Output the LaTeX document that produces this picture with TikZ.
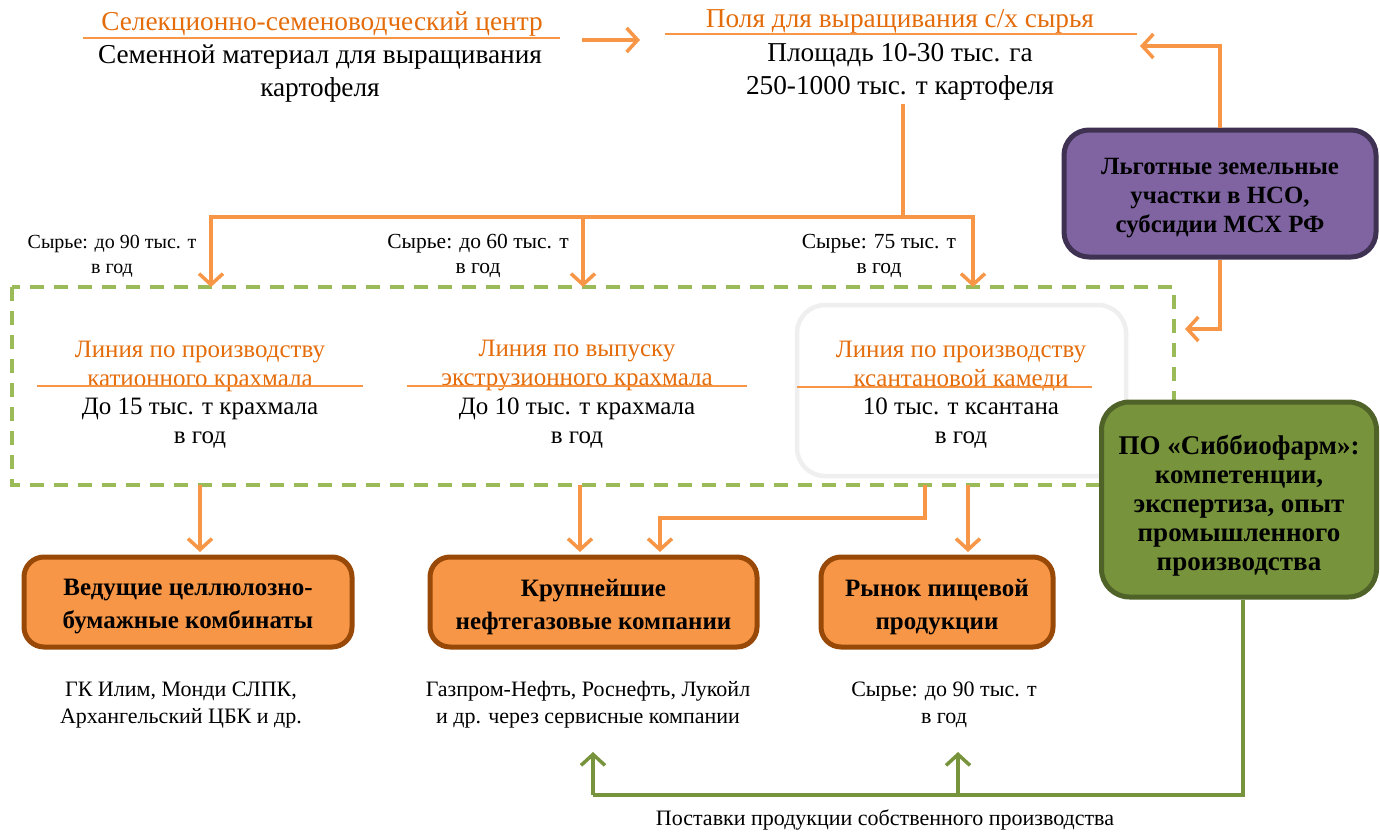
\documentclass[tikz,border=0pt]{standalone}
\usepackage{fontspec}
\setmainfont{Liberation Serif}
\usetikzlibrary{arrows.meta}
\definecolor{otext}{HTML}{E46C0A}
\definecolor{oline}{HTML}{F79646}
\definecolor{obord}{HTML}{984807}
\definecolor{gdash}{HTML}{9BBB59}
\definecolor{gfill}{HTML}{77933C}
\definecolor{gbord}{HTML}{4F6228}
\definecolor{pfill}{HTML}{8064A2}
\definecolor{pbord}{HTML}{3F3151}
\definecolor{lgray}{HTML}{EFEFEF}
\tikzset{
  big/.style={font=\fontsize{27.3}{33}\selectfont, align=center, inner sep=0pt},
  ttl/.style={big, text=otext},
  col/.style={font=\fontsize{25}{29}\selectfont, align=center, inner sep=0pt},
  colt/.style={col, text=otext},
  small/.style={font=\fontsize{21.5}{25}\selectfont, align=center, inner sep=0pt},
  lowtxt/.style={font=\fontsize{22}{27}\selectfont, align=center, inner sep=0pt},
  uline/.style={draw=oline, line width=2.5pt},
  oarr/.style={draw=oline, line width=3.5pt, -{Straight Barb[length=11pt,width=24pt]}},
  oline/.style={draw=oline, line width=3.5pt},
  garr/.style={draw=gfill, line width=3.5pt, -{Straight Barb[length=11pt,width=24pt]}},
  obox/.style={draw=obord, fill=oline, line width=5pt, rounded corners=20pt, inner sep=0pt},
  btxt/.style={font=\bfseries\fontsize{25}{33}\selectfont, align=center, inner sep=0pt},
}
\begin{document}
\begin{tikzpicture}[x=1pt,y=-1pt]
\useasboundingbox (0,0) rectangle (1380,832);
% dashed container
\draw[gdash, line width=4pt, dash pattern=on 14pt off 10pt] (12,287) rectangle (1174,485);
% light gray rounded box
\draw[lgray, line width=4.5pt, rounded corners=28pt] (797,305) rectangle (1126,476);

% top left
\node[ttl] (seedT) at (322,24) {Селекционно-семеноводческий центр};
\draw[uline] (83,38) -- (560,38);
\node[big] (seed) at (320,74) {Семенной материал для выращивания\\картофеля};
% top right
\node[ttl] (fieldT) at (900,21) {Поля для выращивания с/х сырья};
\draw[uline] (665,34) -- (1137,34);
\node[big] (field) at (900,72) {Площадь 10-30 тыс. га\\250-1000 тыс. т картофеля};

\coordinate (a1s) at (582,40);
\coordinate (a1e) at (640,40);
\draw[oarr] (a1s) -- (a1e);

% distribution
\coordinate (fb) at (903,104);
\coordinate (fj) at (903,217);
\coordinate (d1) at (211,287);
\coordinate (d2) at (583,287);
\coordinate (d3) at (973,287);
\draw[oline] (fb) -- (fj);
\draw[oarr] (fj) -| (d1);
\draw[oarr] (fj) -| (d3);
\draw[oarr] (583,217) -- (d2);

\node[small, font=\fontsize{20}{25}\selectfont] (l1) at (112,256) {Сырье: до 90 тыс. т\\в год};
\node[small] (l2) at (478,256) {Сырье: до 60 тыс. т\\в год};
\node[small] (l3) at (879,256) {Сырье: 75 тыс. т\\в год};

% purple box
\node[draw=pbord, fill=pfill, line width=5pt, rounded corners=25pt,
  minimum width=312pt, minimum height=127pt, inner sep=0pt] (purp) at (1220,193.5) {};
\node[btxt, font=\bfseries\fontsize{24.8}{29}\selectfont] (purpt) at ([yshift=-5pt]purp.center)
  {Льготные земельные\\участки в НСО,\\субсидии МСХ РФ};
\coordinate (pt1) at (1140,46);
\coordinate (pt2) at (1185,329);
\draw[oarr] (purp.north) |- (pt1);
\draw[oarr] (purp.south) |- (pt2);

% columns
\node[colt] (c1t) at (200,366) {Линия по производству\\катионного крахмала};
\draw[uline] (37,386) -- (363,386);
\node[col] (c1) at (200,423.5) {До 15 тыс. т крахмала\\в год};
\node[colt] (c2t) at (577,366) {Линия по выпуску\\экструзионного крахмала};
\draw[uline] (407,386) -- (747,386);
\node[col] (c2) at (577,423.5) {До 10 тыс. т крахмала\\в год};
\node[colt] (c3t) at (961,366) {Линия по производству\\ксантановой камеди};
\draw[uline] (797,387) -- (1092,387);
\node[col] (c3) at (961,423.5) {10 тыс. т ксантана\\в год};

% green box
\node[draw=gbord, fill=gfill, line width=5pt, rounded corners=28pt,
  minimum width=275pt, minimum height=195pt, inner sep=0pt] (sib) at (1239,499.5) {};
\node[btxt, font=\bfseries\fontsize{27}{29}\selectfont] (sibt) at ([yshift=-6pt]sib.center)
  {ПО «Сиббиофарм»:\\компетенции,\\экспертиза, опыт\\промышленного\\производства};

% orange boxes
\node[obox, minimum width=328pt, minimum height=90pt] (b1) at (188,602) {};
\node[btxt] (b1t) at ([yshift=-5pt]b1.center) {Ведущие целлюлозно-\\бумажные комбинаты};
\node[obox, minimum width=327pt, minimum height=90pt] (b2) at (593.5,602) {};
\node[btxt] (b2t) at ([yshift=-5pt]b2.center) {Крупнейшие\\нефтегазовые компании};
\node[obox, minimum width=232pt, minimum height=90pt] (b3) at (937,602) {};
\node[btxt] (b3t) at ([yshift=-5pt]b3.center) {Рынок пищевой\\продукции};

\coordinate (s1) at (200,485);
\coordinate (s2) at (580,485);
\coordinate (s3) at (925,485);
\coordinate (s4) at (968,485);
\coordinate (e1) at (200,552);
\coordinate (e2) at (580,552);
\coordinate (e3) at (660,552);
\coordinate (e4) at (968,552);
\draw[oarr] (s1) -- (e1);
\draw[oarr] (s2) -- (e2);
\draw[oarr] (s3) -- (925,518) -| (e3);
\draw[oarr] (s4) -- (e4);

\node[lowtxt] (t1) at (181,705) {ГК Илим, Монди СЛПК,\\Архангельский ЦБК и др.};
\node[lowtxt] (t2) at (588,705) {Газпром-Нефть, Роснефть, Лукойл\\и др. через сервисные компании};
\node[lowtxt] (t3) at (944,705) {Сырье: до 90 тыс. т\\в год};

% green supply line
\coordinate (gj) at (1243,795);
\coordinate (g1) at (593,752);
\coordinate (g2) at (958,752);
\draw[draw=gfill, line width=3.5pt] (sib.south -| gj) -- (gj) -- (593,795);
\draw[garr] (593,795) -- (g1);
\draw[garr] (958,795) -- (g2);
\node[lowtxt] (sup) at (885,820) {Поставки продукции собственного производства};
\end{tikzpicture}
\end{document}
